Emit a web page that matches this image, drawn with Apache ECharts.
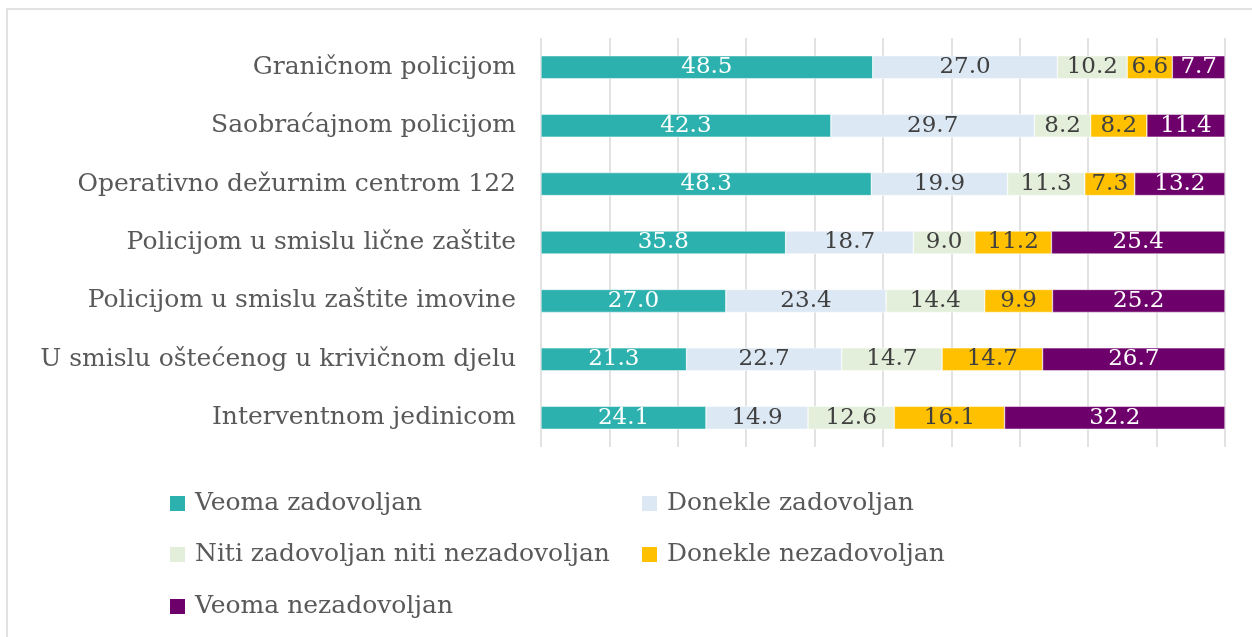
<!DOCTYPE html>
<html>
<head>
<meta charset="utf-8">
<script src="https://cdn.jsdelivr.net/npm/echarts@6/dist/echarts.min.js"></script>
<style>
  html, body { margin: 0; padding: 0; background: #fff; }
  #chart { width: 1252px; height: 637px; }
</style>
</head>
<body>
<div id="chart"></div>
<script>
// kategorije odozgo prema dolje
var categories = [
    'Graničnom policijom',
    'Saobraćajnom policijom',
    'Operativno dežurnim centrom 122',
    'Policijom u smislu lične zaštite',
    'Policijom u smislu zaštite imovine',
    'U smislu oštećenog u krivičnom djelu',
    'Interventnom jedinicom'
];
var seriesNames = [
    'Veoma zadovoljan',
    'Donekle zadovoljan',
    'Niti zadovoljan niti nezadovoljan',
    'Donekle nezadovoljan',
    'Veoma nezadovoljan'
];
var veomaZadovoljan    = [48.5, 42.3, 48.3, 35.8, 27.0, 21.3, 24.1];
var donekleZadovoljan  = [27.0, 29.7, 19.9, 18.7, 23.4, 22.7, 14.9];
var niti               = [10.2, 8.2, 11.3, 9.0, 14.4, 14.7, 12.6];
var donekleNezadovoljan = [6.6, 8.2, 7.3, 11.2, 9.9, 14.7, 16.1];
var veomaNezadovoljan  = [7.7, 11.4, 13.2, 25.4, 25.2, 26.7, 32.2];

var values = [veomaZadovoljan, donekleZadovoljan, niti, donekleNezadovoljan, veomaNezadovoljan];
var colors = ['#2CB1AE', '#DCE8F4', '#E3EFDA', '#FFC000', '#6E006C'];
var labelColors = ['#ffffff', '#404040', '#404040', '#404040', '#ffffff'];

var fontFamily = '"DejaVu Serif", "Liberation Serif", serif';

// 100% stacked, kao u Excelu
var totals = categories.map(function (c, i) {
    return values.reduce(function (s, arr) { return s + arr[i]; }, 0);
});

var myChart = echarts.init(document.getElementById('chart'));

var series = seriesNames.map(function (name, k) {
    return {
        name: name,
        type: 'bar',
        stack: 'total',
        barWidth: 23,
        itemStyle: { color: colors[k], borderColor: '#ffffff', borderWidth: 0.5 },
        label: {
            show: true,
            position: 'inside',
            color: labelColors[k],
            fontFamily: fontFamily,
            fontSize: 23,
            formatter: function (p) { return values[k][p.dataIndex].toFixed(1); }
        },
        emphasis: { disabled: true },
        data: values[k].map(function (v, i) { return v / totals[i] * 100; })
    };
});

// legenda u dvije kolone
var legendPos = [
    [168, 491], [640, 491],
    [168, 542], [640, 542],
    [168, 594]
];
var legends = seriesNames.map(function (name, k) {
    return {
        data: [name],
        left: legendPos[k][0],
        top: legendPos[k][1],
        padding: 0,
        itemWidth: 17,
        itemHeight: 17,
        icon: 'rect',
        selectedMode: false,
        textStyle: { color: '#595959', fontFamily: fontFamily, fontSize: 25, padding: [0, 0, 0, 4] }
    };
});

var option = {
    animation: false,
    backgroundColor: '#ffffff',
    legend: legends,
    graphic: [{
        type: 'rect',
        shape: { x: 7, y: 9, width: 1260, height: 650 },
        style: { fill: 'none', stroke: '#d9d9d9', lineWidth: 1.5 },
        silent: true
    }],
    grid: { left: 541, right: 27, top: 38, bottom: 190, containLabel: false },
    xAxis: {
        type: 'value',
        min: 0,
        max: 100,
        interval: 10,
        axisLabel: { show: false },
        axisLine: { show: false },
        axisTick: { show: false },
        splitLine: { show: true, lineStyle: { color: '#d9d9d9', width: 1.5 } }
    },
    yAxis: {
        type: 'category',
        inverse: true,
        data: categories,
        axisLine: { show: false },
        axisTick: { show: false },
        axisLabel: {
            margin: 25,
            color: '#595959',
            fontFamily: fontFamily,
            fontSize: 25
        }
    },
    series: series
};

myChart.setOption(option);
window.onresize = myChart.resize;
</script>
</body>
</html>
